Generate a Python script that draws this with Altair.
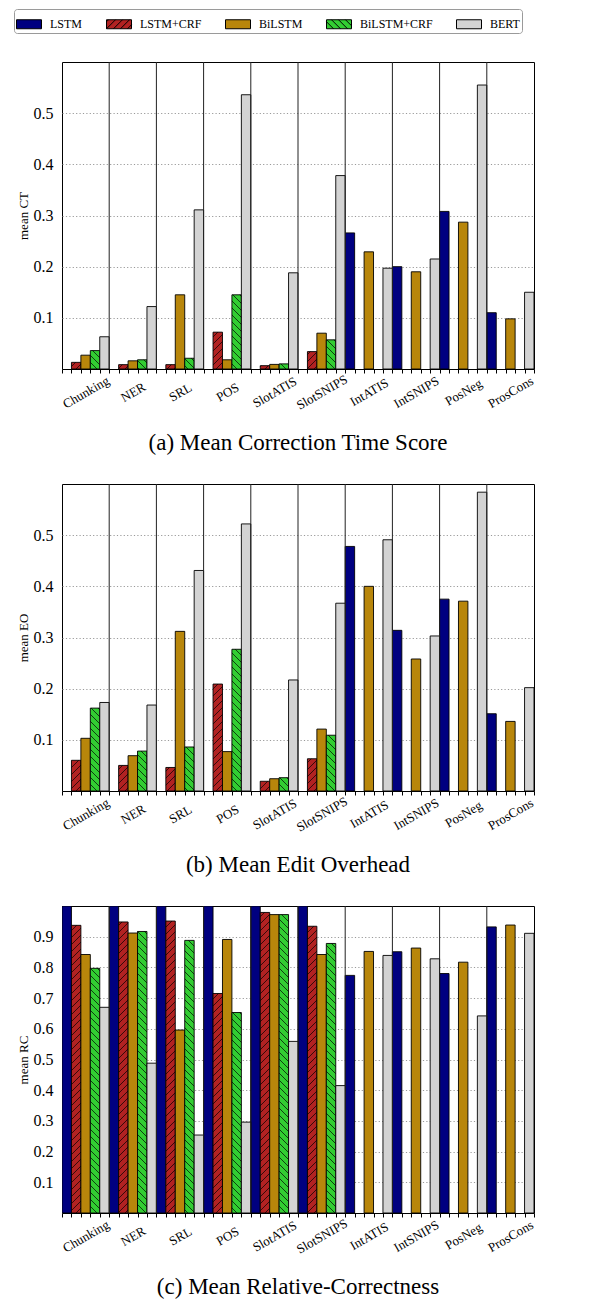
import json
import math
import altair as alt
import pandas as pd

# ---------------- data ----------------
categories = ["Chunking", "NER", "SRL", "POS", "SlotATIS", "SlotSNIPS",
              "IntATIS", "IntSNIPS", "PosNeg", "ProsCons"]
models = ["LSTM", "LSTM+CRF", "BiLSTM", "BiLSTM+CRF", "BERT"]
model_colors = ["#000080", "#b22222", "#b8860b", "#32cd32", "#d3d3d3"]

# (a) mean correction time
ct_lstm = [0, 0, 0, 0, 0, 0, 0.266, 0.200, 0.308, 0.110]
ct_lstm_crf = [0.013, 0.0085, 0.0085, 0.072, 0.0065, 0.034, None, None, None, None]
ct_bilstm = [0.027, 0.016, 0.145, 0.018, 0.009, 0.070, 0.229, 0.190, 0.287, 0.098]
ct_bilstm_crf = [0.036, 0.018, 0.021, 0.145, 0.010, 0.057, None, None, None, None]
ct_bert = [0.063, 0.122, 0.311, 0.536, 0.188, 0.378, 0.197, 0.215, 0.555, 0.150]

# (b) mean edit overhead
eo_lstm = [0, 0, 0, 0, 0, 0, 0.478, 0.314, 0.375, 0.151]
eo_lstm_crf = [0.060, 0.050, 0.046, 0.209, 0.019, 0.063, None, None, None, None]
eo_bilstm = [0.103, 0.069, 0.312, 0.077, 0.024, 0.121, 0.400, 0.258, 0.371, 0.136]
eo_bilstm_crf = [0.162, 0.078, 0.086, 0.277, 0.026, 0.109, None, None, None, None]
eo_bert = [0.173, 0.168, 0.431, 0.522, 0.217, 0.367, 0.491, 0.303, 0.584, 0.202]

# (c) mean relative correctness
rc_lstm = [1.0, 1.0, 1.0, 1.0, 1.0, 1.0, 0.774, 0.851, 0.780, 0.932]
rc_lstm_crf = [0.937, 0.948, 0.951, 0.715, 0.979, 0.934, None, None, None, None]
rc_bilstm = [0.842, 0.912, 0.596, 0.891, 0.972, 0.842, 0.852, 0.863, 0.817, 0.938]
rc_bilstm_crf = [0.797, 0.917, 0.888, 0.653, 0.972, 0.878, None, None, None, None]
rc_bert = [0.670, 0.488, 0.254, 0.296, 0.559, 0.415, 0.839, 0.828, 0.642, 0.911]

panel_series = [
    [ct_lstm, ct_lstm_crf, ct_bilstm, ct_bilstm_crf, ct_bert],
    [eo_lstm, eo_lstm_crf, eo_bilstm, eo_bilstm_crf, eo_bert],
    [rc_lstm, rc_lstm_crf, rc_bilstm, rc_bilstm_crf, rc_bert],
]
y_titles = ["mean CT", "mean EO", "mean RC"]
y_max = [0.6, 0.6, 1.0]
y_ticks = [[0.1, 0.2, 0.3, 0.4, 0.5], [0.1, 0.2, 0.3, 0.4, 0.5],
           [0.1, 0.2, 0.3, 0.4, 0.5, 0.6, 0.7, 0.8, 0.9]]
panel_titles = ["(a) Mean Correction Time Score", "(b) Mean Edit Overhead",
                "(c) Mean Relative-Correctness"]
hatch_dir = {"LSTM+CRF": "/", "BiLSTM+CRF": "\\"}

# ---------------- style ----------------
FONT = "Liberation Serif"
W, H = 472, 307
NM, NG = len(models), len(categories)
NS = NM * NG
SLOT_PX = W / NS
PITCH = 7.0


def hatch_lines(x0, w, h, direction, pitch):
    """Diagonal hatch segments inside a w x h box (y up), pattern anchored globally."""
    segs = []
    if h <= 0:
        return segs
    if direction == "/":
        phase = x0 % pitch
        k = -int(math.ceil(w / pitch)) - 1
        while True:
            c = phase + k * pitch
            k += 1
            if c >= h:
                break
            if c <= -w:
                continue
            sx, sy = (0.0, c) if c >= 0 else (-c, 0.0)
            ex, ey = (w, c + w) if c + w <= h else (h - c, h)
            if ex - sx > 0.05:
                segs.append((sx, sy, ex, ey))
    else:
        phase = (-x0) % pitch
        k = 0
        while True:
            c = phase + k * pitch
            k += 1
            if c >= h + w:
                break
            if c <= 0:
                continue
            sx, sy = (0.0, c) if c <= h else (c - h, h)
            ex, ey = (c, 0.0) if c <= w else (w, c - w)
            if ex - sx > 0.05:
                segs.append((sx, sy, ex, ey))
    return segs


# legend symbol paths (25 x 9 px rectangles, with hatch for the CRF models)
def legend_path(model):
    sw, sh, half = 25.0, 9.0, 12.5
    yh = sh / 2 / half
    p = "M-1,%.3fH1V%.3fH-1Z" % (-yh, yh)
    if model in hatch_dir:
        for sx, sy, ex, ey in hatch_lines(0.0, sw, sh, hatch_dir[model], PITCH):
            p += " M%.3f,%.3fL%.3f,%.3f" % (-1 + sx / half, yh - sy / half,
                                           -1 + ex / half, yh - ey / half)
    return p


legend_paths = [legend_path(m) for m in models]

xscale = alt.Scale(domain=[0, NS], nice=False, zero=False)
fill_scale = alt.Scale(domain=models, range=model_colors)
shape_scale = alt.Scale(domain=models, range=legend_paths)
stroke_scale = alt.Scale(domain=models, range=["black"] * len(models))
label_expr = json.dumps(categories) + "[floor(datum.value / %d)]" % NM

legend = alt.Legend(
    orient="none", legendX=-48, legendY=-53, direction="horizontal", title=None,
    fillColor="white", strokeColor="#9a9a9a", cornerRadius=3, padding=2,
    labelFont=FONT, labelFontSize=12, labelColor="black", labelOffset=8,
    columnPadding=21, symbolSize=625, symbolStrokeWidth=1, symbolOpacity=1,
)


def make_panel(i):
    series = panel_series[i]
    ymax = y_max[i]
    ppu = H / ymax
    rows, hrows = [], []
    for m, (model, vals) in enumerate(zip(models, series)):
        for g, v in enumerate(vals):
            if v is None or v <= 0:
                continue
            slot = g * NM + m
            rows.append(dict(model=model, x0=slot, x1=slot + 1, value=v, base=0.0))
            if model in hatch_dir:
                for sx, sy, ex, ey in hatch_lines(slot * SLOT_PX, SLOT_PX, v * ppu,
                                                  hatch_dir[model], PITCH):
                    hrows.append(dict(hx1=slot + sx / SLOT_PX, hx2=slot + ex / SLOT_PX,
                                      hy1=sy / ppu, hy2=ey / ppu))
    df = pd.DataFrame(rows)
    dfh = pd.DataFrame(hrows)
    yscale = alt.Scale(domain=[0, ymax], nice=False, zero=True)

    label_axis = alt.Axis(
        values=[g * NM + NM / 2 for g in range(NG)], labelExpr=label_expr,
        orient="bottom", labelAngle=-30, labelAlign="center", labelBaseline="middle",
        labelPadding=23, ticks=False, tickSize=0, domain=False, grid=False,
        labelFont=FONT, labelFontSize=13, labelColor="black",
        labelFlush=False, labelOverlap=False, labelBound=False, title=None,
    )
    yaxis = alt.Axis(
        values=y_ticks[i], format=".1f", grid=True, gridColor="#9a9a9a",
        gridDash=[1.2, 2.2], gridWidth=1, ticks=False, domain=False,
        labelFont=FONT, labelFontSize=16, labelColor="black", labelPadding=9,
        title=y_titles[i], titleFont=FONT, titleFontSize=13, titleFontWeight="normal",
        titleColor="black", titlePadding=3,
    )

    bars = alt.Chart(df).mark_bar(stroke="black", strokeWidth=0.9, clip=True).encode(
        x=alt.X("x0:Q", scale=xscale, axis=label_axis),
        x2="x1:Q",
        y=alt.Y("value:Q", scale=yscale, axis=yaxis),
        y2="base:Q",
        fill=alt.Fill("model:N", scale=fill_scale, legend=legend if i == 0 else None),
    )
    hatch = alt.Chart(dfh).mark_rule(color="black", strokeWidth=0.7, clip=True).encode(
        x=alt.X("hx1:Q", scale=xscale, axis=None),
        x2="hx2:Q",
        y=alt.Y("hy1:Q", scale=yscale, axis=yaxis),
        y2="hy2:Q",
    )
    seps = alt.Chart(pd.DataFrame({"b": [g * NM for g in range(1, NG)]})).mark_rule(
        color="#222222", strokeWidth=1
    ).encode(
        x=alt.X("b:Q", scale=xscale, axis=alt.Axis(
            values=list(range(NS + 1)), orient="bottom", labels=False, ticks=True,
            tickSize=4, tickColor="black", tickWidth=1, domain=False, grid=False,
            title=None)),
    )
    layers = [bars, hatch, seps]
    if i == 0:
        leg = alt.Chart(pd.DataFrame({"model": models})).mark_point(
            filled=True, opacity=1, strokeWidth=1
        ).encode(
            fill=alt.Fill("model:N", scale=fill_scale, legend=legend),
            shape=alt.Shape("model:N", scale=shape_scale, legend=legend),
            stroke=alt.Stroke("model:N", scale=stroke_scale, legend=legend),
        ).transform_filter("false")
        layers.append(leg)
    return alt.layer(*layers).resolve_axis(x="independent").properties(
        width=W, height=H,
        title=alt.TitleParams(panel_titles[i], orient="bottom", anchor="middle",
                              frame="group", font=FONT, fontSize=23,
                              fontWeight="normal", color="black", offset=20),
    )


chart = alt.vconcat(*[make_panel(i) for i in range(3)], spacing=27).resolve_legend(
    fill="independent", shape="independent", stroke="independent"
).configure_view(stroke="black", strokeWidth=1).properties(
    padding={"left": 5, "right": 5, "top": 0, "bottom": 5}
)

chart.save("out.html", embed_options={"renderer": "svg", "actions": False})
